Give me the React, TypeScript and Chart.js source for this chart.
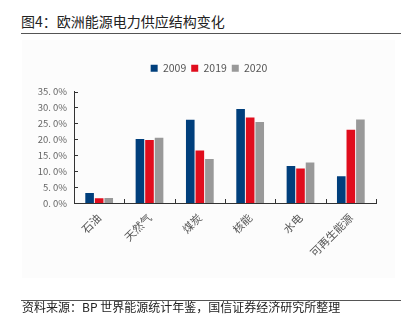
import React, { useEffect, useRef } from "react";
import { Chart, registerables } from "chart.js";

Chart.register(...registerables);

const categories = ["石油", "天然气", "煤炭", "核能", "水电", "可再生能源"];
const seriesNames = ["2009", "2019", "2020"];
const values2009 = [3.1, 20.1, 26.1, 29.5, 11.6, 8.4];
const values2019 = [1.5, 19.8, 16.5, 26.8, 10.8, 23.0];
const values2020 = [1.6, 20.5, 13.8, 25.4, 12.7, 26.2];
const colors = ["#003f7c", "#e00d1d", "#999999"];
const yTickValues = [0, 5, 10, 15, 20, 25, 30, 35];

const FONT = "'Noto Sans CJK SC', 'Noto Sans', sans-serif";

const inwardTicks = {
  id: "inwardTicks",
  afterDraw(chart: any) {
    const { ctx, chartArea } = chart;
    const xs = chart.scales.x;
    const ys = chart.scales.y;
    ctx.save();
    ctx.strokeStyle = "#333333";
    ctx.lineWidth = 1;
    ctx.beginPath();
    for (const v of yTickValues) {
      const py = Math.round(ys.getPixelForValue(v)) + 0.5;
      ctx.moveTo(chartArea.left, py);
      ctx.lineTo(chartArea.left + 4, py);
    }
    for (let i = 1; i <= categories.length; i++) {
      const px = Math.round(xs.getPixelForValue(i - 0.5)) + 0.5;
      ctx.moveTo(px, chartArea.bottom);
      ctx.lineTo(px, chartArea.bottom - 4);
    }
    ctx.stroke();
    ctx.restore();
  },
};

const hiddenAxis = (position: string, size: number) => ({
  type: "linear",
  position,
  display: true,
  grid: { display: false, drawTicks: false },
  border: { display: false },
  ticks: { display: false },
  afterFit(s: any) {
    if (position === "top" || position === "bottom") s.height = size;
    else s.width = size;
  },
});

export default function App() {
  const ref = useRef<HTMLCanvasElement | null>(null);
  useEffect(() => {
    if (!ref.current) return;
    const data = [values2009, values2019, values2020];
    const chart = new Chart(ref.current, {
      type: "bar",
      data: {
        labels: categories,
        datasets: seriesNames.map((n, i) => ({
          label: n,
          data: data[i],
          backgroundColor: colors[i],
          borderWidth: 0,
          categoryPercentage: 0.57,
          barPercentage: 0.9,
          xAxisID: "x",
          yAxisID: "y",
        })),
      },
      options: {
        animation: false,
        responsive: false,
        maintainAspectRatio: false,
        layout: { padding: { left: 7, right: 0, top: 58, bottom: 0 } },
        plugins: {
          tooltip: { enabled: false },
          legend: {
            position: "top",
            labels: {
              boxWidth: 7,
              boxHeight: 7,
              color: "#555555",
              font: { family: FONT, size: 10.5 },
              padding: 5,
            },
          },
        },
        scales: {
          x: {
            grid: { display: false, drawTicks: false },
            border: { display: true, color: "#333333", width: 1 },
            ticks: {
              color: "#555555",
              font: { family: FONT, size: 11 },
              minRotation: 45,
              maxRotation: 45,
              autoSkip: false,
              padding: 8,
            },
            afterFit(s: any) {
              s.height = 126;
            },
          },
          y: {
            min: 0,
            max: 35,
            grid: { display: false, drawTicks: false },
            border: { display: true, color: "#333333", width: 1 },
            ticks: {
              stepSize: 5,
              color: "#666666",
              font: { family: FONT, size: 9.5 },
              padding: 7,
              callback: (v: any) => Number(v).toFixed(1).replace(".", ". ") + "%",
            },
            afterFit(s: any) {
              s.width = 67;
            },
          },
          xTopSpacer: hiddenAxis("top", 8),
          yRightSpacer: hiddenAxis("right", 35),
        } as any,
      },
      plugins: [inwardTicks],
    });
    return () => chart.destroy();
  }, []);

  return (
    <div
      style={{
        position: "fixed",
        left: 0,
        top: 0,
        width: 411,
        height: 329,
        background: "#ffffff",
        fontFamily: FONT,
        overflow: "hidden",
      }}
    >
      <div
        style={{
          position: "absolute",
          left: 22,
          top: 40,
          width: 373,
          height: 238,
          background: "#fcfcfc",
        }}
      />
      <div
        style={{
          position: "absolute",
          left: 21,
          top: 12,
          fontSize: 14,
          lineHeight: "18px",
          color: "#222222",
          whiteSpace: "nowrap",
        }}
      >
        图4：欧洲能源电力供应结构变化
      </div>
      <div
        style={{
          position: "absolute",
          left: 21,
          top: 33,
          width: 380,
          height: 1,
          background: "#555555",
        }}
      />
      <canvas
        ref={ref}
        width={411}
        height={329}
        style={{ position: "absolute", left: 0, top: 0, width: 411, height: 329 }}
      />
      <div
        style={{
          position: "absolute",
          left: 21,
          top: 300,
          width: 380,
          height: 1,
          background: "#555555",
        }}
      />
      <div
        style={{
          position: "absolute",
          left: 22,
          top: 299,
          fontSize: 12,
          lineHeight: "15px",
          color: "#222222",
          whiteSpace: "nowrap",
        }}
      >
        资料来源：BP 世界能源统计年鉴，国信证券经济研究所整理
      </div>
    </div>
  );
}
